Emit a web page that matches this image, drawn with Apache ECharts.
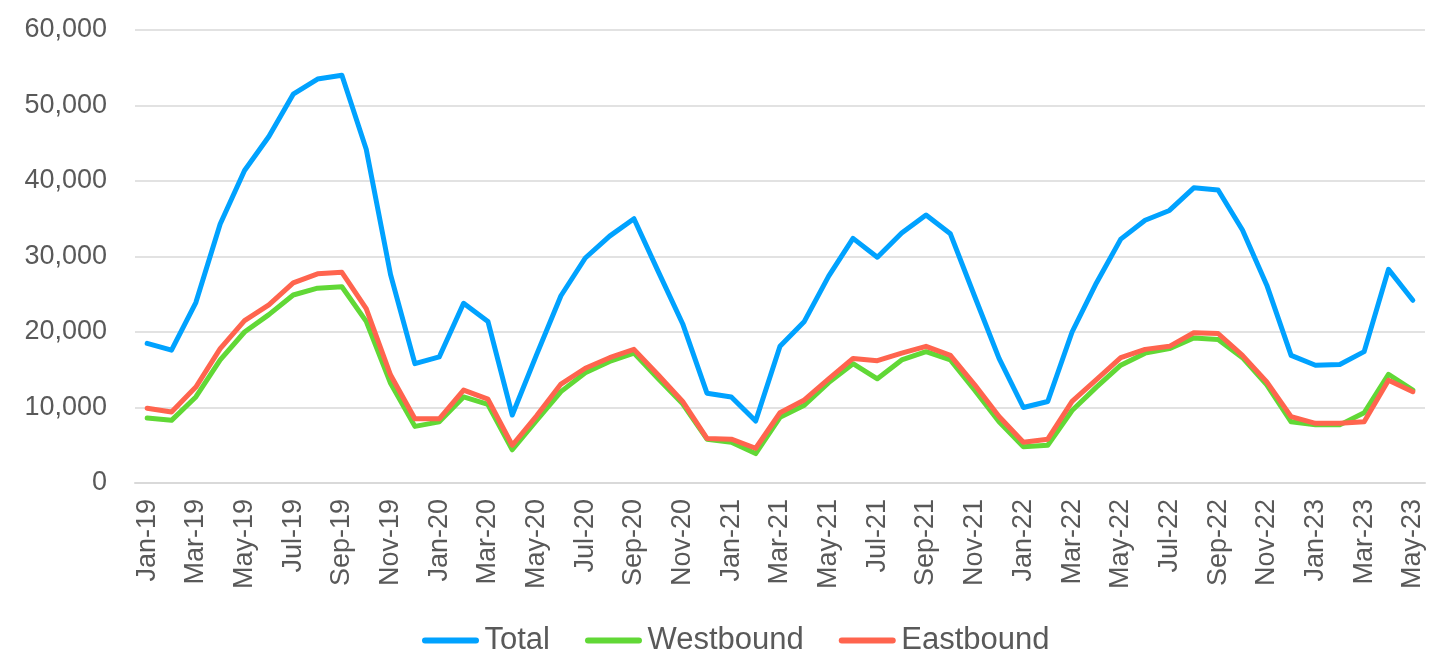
<!DOCTYPE html>
<html>
<head>
<meta charset="utf-8">
<script src="https://cdn.jsdelivr.net/npm/echarts@6/dist/echarts.min.js"></script>
<style>
  html, body { margin: 0; padding: 0; background: #fff; }
  #chart { width: 1450px; height: 650px; }
</style>
</head>
<body>
<div id="chart"></div>
<script>
// monthly crossings, Jan-19 .. May-23
var months = [
  "Jan-19", "Feb-19", "Mar-19", "Apr-19", "May-19", "Jun-19", "Jul-19", "Aug-19", "Sep-19", "Oct-19", "Nov-19", "Dec-19",
  "Jan-20", "Feb-20", "Mar-20", "Apr-20", "May-20", "Jun-20", "Jul-20", "Aug-20", "Sep-20", "Oct-20", "Nov-20", "Dec-20",
  "Jan-21", "Feb-21", "Mar-21", "Apr-21", "May-21", "Jun-21", "Jul-21", "Aug-21", "Sep-21", "Oct-21", "Nov-21", "Dec-21",
  "Jan-22", "Feb-22", "Mar-22", "Apr-22", "May-22", "Jun-22", "Jul-22", "Aug-22", "Sep-22", "Oct-22", "Nov-22", "Dec-22",
  "Jan-23", "Feb-23", "Mar-23", "Apr-23", "May-23"
];

var total = [
  18500, 17600, 23900, 34300, 41400, 45900, 51500, 53500, 54000, 44200, 27600, 15800,
  16700, 23800, 21400, 9000, 17000, 24800, 29800, 32700, 35000, 28000, 21100, 11900,
  11400, 8200, 18100, 21400, 27400, 32400, 29900, 33100, 35500, 33000, 24700, 16500,
  10000, 10800, 20000, 26500, 32300, 34800, 36100, 39100, 38800, 33500, 26200, 16900,
  15600, 15700, 17400, 28300, 24200
];

var westbound = [
  8600, 8300, 11400, 16300, 20000, 22300, 24900, 25800, 26000, 21400, 13200, 7500,
  8100, 11400, 10400, 4400, 8300, 12100, 14600, 16100, 17200, 13800, 10500, 5800,
  5400, 3900, 8700, 10300, 13300, 15800, 13800, 16300, 17400, 16300, 12300, 8100,
  4800, 5000, 9600, 12700, 15600, 17200, 17800, 19200, 19000, 16600, 13000, 8100,
  7700, 7700, 9300, 14400, 12300
];

var eastbound = [
  9900, 9400, 12700, 17800, 21500, 23600, 26500, 27700, 27900, 23100, 14300, 8500,
  8500, 12300, 11100, 5000, 8900, 13100, 15200, 16600, 17700, 14300, 10800, 5900,
  5800, 4600, 9300, 11000, 13800, 16500, 16200, 17200, 18100, 16900, 13000, 8800,
  5400, 5800, 10800, 13700, 16600, 17700, 18100, 19900, 19800, 16900, 13400, 8800,
  7900, 7900, 8100, 13600, 12100
];

var yTicks = [0, 10000, 20000, 30000, 40000, 50000, 60000];

var fontName = "Liberation Sans";
var textColor = "#595959";
var gridColor = "#d9d9d9";
var capsule = "path://M3,0 H54 A3,3 0 0 1 54,6 H3 A3,3 0 0 1 3,0 Z";

function makeSeries(name, data, color) {
  return {
    name: name,
    type: "line",
    data: data,
    symbol: "none",
    color: color,
    lineStyle: { width: 5, color: color, cap: "round", join: "round" }
  };
}

var myChart = echarts.init(document.getElementById("chart"));
myChart.setOption({
  animation: false,
  textStyle: { fontFamily: fontName },
  grid: { left: 135, right: 25, top: 30, bottom: 167, containLabel: false },
  legend: {
    left: 417,
    top: 620,
    itemWidth: 58,
    itemHeight: 6,
    itemGap: 35,
    icon: capsule,
    textStyle: { fontSize: 31, color: textColor, fontFamily: fontName },
    data: ["Total", "Westbound", "Eastbound"]
  },
  xAxis: {
    type: "category",
    data: months,
    boundaryGap: true,
    axisLine: { lineStyle: { color: gridColor, width: 2 } },
    axisTick: { interval: 1, length: 8, lineStyle: { color: gridColor, width: 2 } },
    axisLabel: {
      interval: 1,
      rotate: 90,
      margin: 16,
      fontSize: 27,
      color: textColor,
      fontFamily: fontName
    }
  },
  yAxis: {
    type: "value",
    min: yTicks[0],
    max: yTicks[yTicks.length - 1],
    interval: yTicks[1] - yTicks[0],
    axisLine: { show: false },
    axisTick: { show: false },
    splitLine: { lineStyle: { color: gridColor, width: 1.5 } },
    axisLabel: {
      margin: 28,
      fontSize: 27,
      color: textColor,
      fontFamily: fontName,
      formatter: function (v) { return v.toLocaleString("en-US"); }
    }
  },
  series: [
    makeSeries("Total", total, "#00a2ff"),
    makeSeries("Westbound", westbound, "#61d836"),
    makeSeries("Eastbound", eastbound, "#ff644e")
  ]
});
</script>
</body>
</html>
